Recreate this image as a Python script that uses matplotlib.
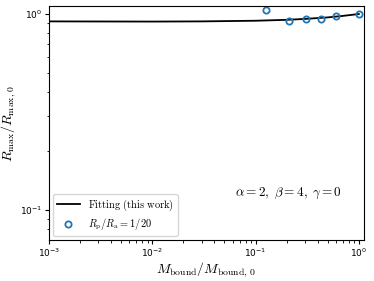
import numpy as np
import matplotlib
matplotlib.use('Agg')
import matplotlib.pyplot as plt

plt.rcParams['mathtext.fontset'] = 'cm'

# fitting curve
fit_x = [1e-3, 3e-3, 1e-2, 3e-2, 0.1, 0.2, 0.3, 0.5, 0.7, 1.0]
fit_y = [0.917, 0.916, 0.915, 0.917, 0.924, 0.934, 0.944, 0.961, 0.978, 1.0]

# simulation points, Rp/Ra = 1/20
sim_x = [0.125, 0.21, 0.307, 0.428, 0.598, 1.0]
sim_y = [1.048, 0.917, 0.943, 0.94, 0.98, 1.0]

fig = plt.figure(figsize=(3.74, 2.81), dpi=100)
ax = fig.add_axes([0.131, 0.146, 0.842, 0.833])

ax.plot(fit_x, fit_y, color='k', lw=1.3, label=r'$\mathrm{Fitting\ (this\ work)}$')
ax.plot(sim_x, sim_y, 'o', mfc='none', mec='C0', mew=1.3, ms=4.5,
        label=r'$R_\mathrm{p}/R_\mathrm{a}=1/20$')

ax.set_xscale('log')
ax.set_yscale('log')
ax.set_xlim(1e-3, 1.12)
ax.set_ylim(0.0703, 1.1)
ax.tick_params(labelsize=6.5, pad=2)
ax.tick_params(which='major', length=3)
ax.tick_params(which='minor', length=1.8)

ax.set_xlabel(r'$M_\mathrm{bound}/M_\mathrm{bound,\,0}$', fontsize=10, labelpad=1)
ax.set_ylabel(r'$R_\mathrm{max}/R_\mathrm{max,\,0}$', fontsize=10, labelpad=1)

ax.text(0.93, 0.2, r'$\alpha=2,\;\beta=4,\;\gamma=0$', transform=ax.transAxes,
        ha='right', va='center', fontsize=9.5)

ax.legend(loc='lower left', fontsize=7.5, handlelength=2.2, borderaxespad=0.4,
          labelspacing=0.35, borderpad=0.35)

fig.savefig('out.png', dpi=100)
